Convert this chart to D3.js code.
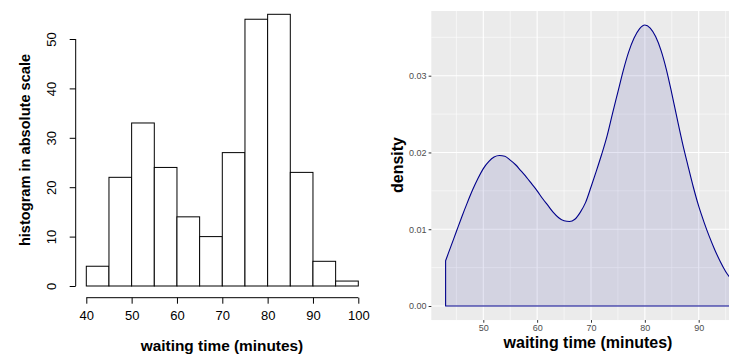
<!DOCTYPE html>
<html><head><meta charset="utf-8">
<script src="https://cdn.jsdelivr.net/npm/d3@7"></script>
<style>body{margin:0;background:#fff}svg{display:block;font-family:"Liberation Sans",Arial,sans-serif}</style>
</head><body><svg id="c" width="729" height="354"></svg>
<script>
// ---- Histogram data (left) ----
const binStarts = [40,45,50,55,60,65,70,75,80,85,90,95];
const binWidth = 5;
const counts = [4,22,33,24,14,10,27,54,55,23,5,1];
const histXTicks = [40,50,60,70,80,90,100];
const histYTicks = [0,10,20,30,40,50];

// ---- Density data (right) ----
const densX = [43,44,45,46,47,48,49,50,51,52,53,54,55,56,57,58,59,60,61,62,63,64,65,66,67,68,69,70,
  71,72,73,74,75,76,77,78,79,80,81,82,83,84,85,86,87,88,89,90,91,92,93,94,95,96];
const densY = [0.0059,0.0078,0.0097,0.0116,0.0134,0.0151,0.0166,0.0179,0.0188,0.0194,0.0196,0.0195,0.0190,
  0.0184,0.0176,0.0168,0.0159,0.0150,0.0140,0.0131,0.0122,0.0115,0.0111,0.0110,0.0113,0.0122,0.0135,0.0155,
  0.0176,0.0198,0.0222,0.0251,0.0279,0.0307,0.0331,0.0349,0.0361,0.0366,0.0362,0.0351,0.0333,0.0308,0.0277,
  0.0244,0.0212,0.0183,0.0155,0.0130,0.0109,0.0090,0.0073,0.0058,0.0045,0.0035];
const densXMajor = [50,60,70,80,90];
const densXMinor = [45,55,65,75,85,95];
const densYMajor = [0,0.01,0.02,0.03];
const densYMinor = [0.005,0.015,0.025,0.035];

const svg = d3.select("#c");

// ===== LEFT: base R histogram =====
const hx = d3.scaleLinear().domain([40,100]).range([86.3,358.3]);
const hy = d3.scaleLinear().domain([0,50]).range([286,39]);
const L = svg.append("g");
L.selectAll("rect.bar").data(counts).join("rect")
  .attr("x",(d,i)=>hx(binStarts[i])).attr("width",(d,i)=>hx(binStarts[i]+binWidth)-hx(binStarts[i]))
  .attr("y",d=>hy(d)).attr("height",d=>hy(0)-hy(d))
  .attr("fill","#fff").attr("stroke","#000").attr("stroke-width",1);

const xAx = L.append("g").attr("transform","translate(0,297.7)")
  .call(d3.axisBottom(hx).tickValues(histXTicks).tickSize(6).tickPadding(7).tickFormat(d3.format("d")));
xAx.select(".domain").attr("stroke","#000").attr("d",`M${hx(40)},0H${hx(100)}`);
xAx.selectAll("text").attr("font-size",13).attr("fill","#000").attr("font-family","Liberation Sans, Arial");
xAx.selectAll("line").attr("stroke","#000");

const yAx = L.append("g").attr("transform","translate(75.7,0)")
  .call(d3.axisLeft(hy).tickValues(histYTicks).tickSize(6).tickFormat(d3.format("d")));
yAx.select(".domain").attr("stroke","#000").attr("d",`M0,${hy(0)}V${hy(50)}`);
yAx.selectAll("line").attr("stroke","#000");
yAx.selectAll("text").attr("font-size",13).attr("fill","#000").attr("font-family","Liberation Sans, Arial")
  .attr("text-anchor","middle").attr("x",null).attr("dy",null)
  .attr("transform","translate(-19.5,0) rotate(-90)");

L.append("text").attr("x",222).attr("y",351).attr("text-anchor","middle")
  .attr("font-weight","bold").attr("font-size",15.4).text("waiting time (minutes)");
L.append("text").attr("transform","translate(29.5,150) rotate(-90)").attr("text-anchor","middle")
  .attr("font-weight","bold").attr("font-size",14.6).text("histogram in absolute scale");

// ===== RIGHT: ggplot density =====
const dx = d3.scaleLinear().domain([50,90]).range([483.3,698.7]);
const dy = d3.scaleLinear().domain([0,0.03]).range([306,75.7]);
const R = svg.append("g");
const px0 = dx(40.35), px1 = dx(98.65), py0 = dy(-0.00183), py1 = dy(0.03843);
R.append("rect").attr("x",px0).attr("y",py1).attr("width",px1-px0).attr("height",py0-py1).attr("fill","#EBEBEB");
const grid = R.append("g").attr("stroke","#fff");
grid.selectAll("line.ymn").data(densYMinor).join("line").attr("x1",px0).attr("x2",px1)
  .attr("y1",d=>dy(d)).attr("y2",d=>dy(d)).attr("stroke-width",0.55);
grid.selectAll("line.xmn").data(densXMinor).join("line").attr("y1",py0).attr("y2",py1)
  .attr("x1",d=>dx(d)).attr("x2",d=>dx(d)).attr("stroke-width",0.55);
grid.selectAll("line.ymj").data(densYMajor).join("line").attr("x1",px0).attr("x2",px1)
  .attr("y1",d=>dy(d)).attr("y2",d=>dy(d)).attr("stroke-width",1.1);
grid.selectAll("line.xmj").data(densXMajor).join("line").attr("y1",py0).attr("y2",py1)
  .attr("x1",d=>dx(d)).attr("x2",d=>dx(d)).attr("stroke-width",1.1);

const pts = densX.map((x,i)=>[x,densY[i]]);
const area = d3.area().x(d=>dx(d[0])).y0(dy(0)).y1(d=>dy(d[1])).curve(d3.curveMonotoneX);
R.append("path").datum(pts).attr("d",area).attr("fill","darkblue").attr("fill-opacity",0.1)
  .attr("stroke","darkblue").attr("stroke-width",1.1).attr("stroke-linejoin","round");

// axes
const rxAx = R.append("g").attr("transform",`translate(0,${py0})`)
  .call(d3.axisBottom(dx).tickValues(densXMajor).tickSize(2.7).tickPadding(1.5));
rxAx.select(".domain").remove();
rxAx.selectAll("line").attr("stroke","#333");
rxAx.selectAll("text").attr("font-size",9).attr("fill","#4D4D4D").attr("font-family","Liberation Sans, Arial");

const ryAx = R.append("g").attr("transform",`translate(${px0},0)`)
  .call(d3.axisLeft(dy).tickValues(densYMajor).tickSize(2.7).tickPadding(2.2).tickFormat(d3.format(".2f")));
ryAx.select(".domain").remove();
ryAx.selectAll("line").attr("stroke","#333");
ryAx.selectAll("text").attr("font-size",9).attr("fill","#4D4D4D").attr("font-family","Liberation Sans, Arial");

R.append("text").attr("x",588).attr("y",347.5).attr("text-anchor","middle")
  .attr("font-weight","bold").attr("font-size",16).text("waiting time (minutes)");
R.append("text").attr("transform","translate(403,165) rotate(-90)").attr("text-anchor","middle")
  .attr("font-weight","bold").attr("font-size",16).text("density");
</script></body></html>
